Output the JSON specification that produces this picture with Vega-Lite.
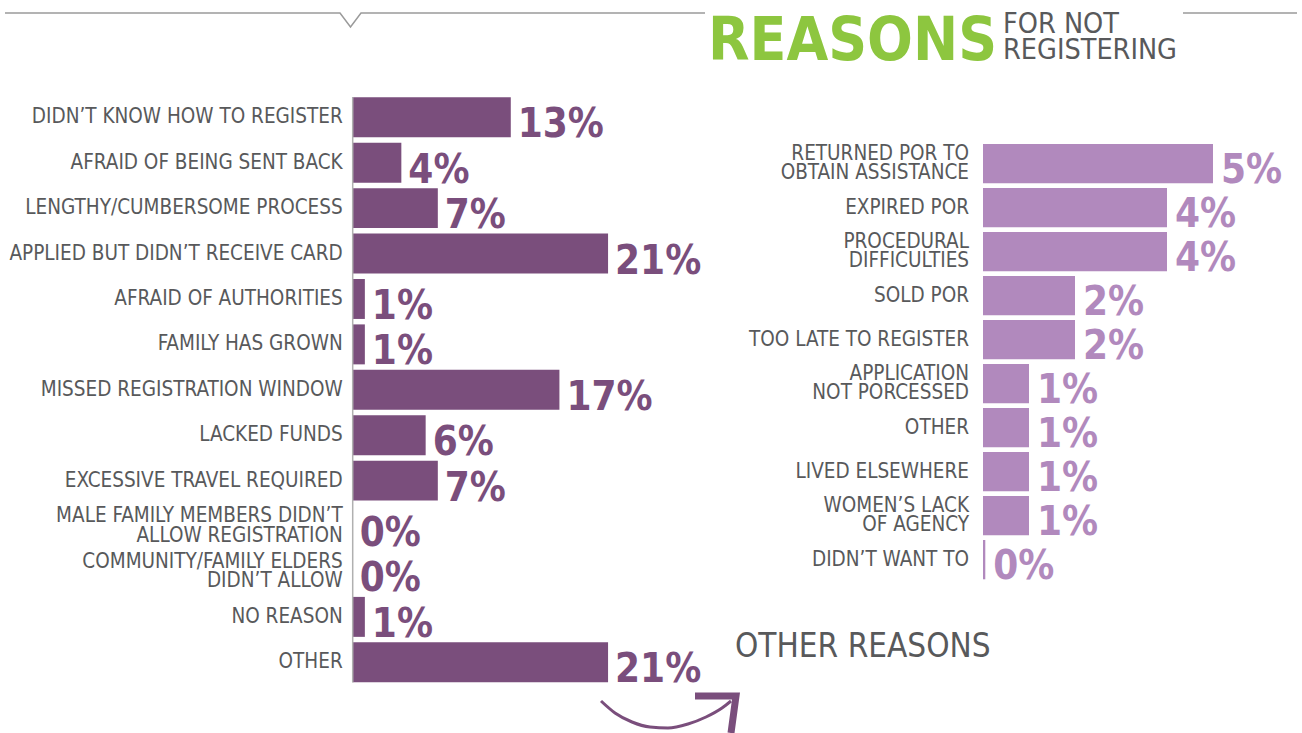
{
  "$schema": "https://vega.github.io/schema/vega-lite/v6.json",
  "width": 1302,
  "height": 733,
  "autosize": "none",
  "padding": 0,
  "background": "white",
  "config": {"view": {"stroke": null}},
  "datasets": {
    "left": [
      {"reason": "DIDN’T KNOW HOW TO REGISTER", "pct": 13, "label": "13%"},
      {"reason": "AFRAID OF BEING SENT BACK", "pct": 4, "label": "4%"},
      {"reason": "LENGTHY/CUMBERSOME PROCESS", "pct": 7, "label": "7%"},
      {"reason": "APPLIED BUT DIDN’T RECEIVE CARD", "pct": 21, "label": "21%"},
      {"reason": "AFRAID OF AUTHORITIES", "pct": 1, "label": "1%"},
      {"reason": "FAMILY HAS GROWN", "pct": 1, "label": "1%"},
      {"reason": "MISSED REGISTRATION WINDOW", "pct": 17, "label": "17%"},
      {"reason": "LACKED FUNDS", "pct": 6, "label": "6%"},
      {"reason": "EXCESSIVE TRAVEL REQUIRED", "pct": 7, "label": "7%"},
      {"reason": "MALE FAMILY MEMBERS DIDN’T\nALLOW REGISTRATION", "pct": 0, "label": "0%"},
      {"reason": "COMMUNITY/FAMILY ELDERS\nDIDN’T ALLOW", "pct": 0, "label": "0%"},
      {"reason": "NO REASON", "pct": 1, "label": "1%"},
      {"reason": "OTHER", "pct": 21, "label": "21%"}
    ],
    "right": [
      {"reason": "RETURNED POR TO\nOBTAIN ASSISTANCE", "pct": 5, "label": "5%"},
      {"reason": "EXPIRED POR", "pct": 4, "label": "4%"},
      {"reason": "PROCEDURAL\nDIFFICULTIES", "pct": 4, "label": "4%"},
      {"reason": "SOLD POR", "pct": 2, "label": "2%"},
      {"reason": "TOO LATE TO REGISTER", "pct": 2, "label": "2%"},
      {"reason": "APPLICATION\nNOT PORCESSED", "pct": 1, "label": "1%"},
      {"reason": "OTHER", "pct": 1, "label": "1%"},
      {"reason": "LIVED ELSEWHERE", "pct": 1, "label": "1%"},
      {"reason": "WOMEN’S LACK\nOF AGENCY", "pct": 1, "label": "1%"},
      {"reason": "DIDN’T WANT TO", "pct": 0.05, "label": "0%"}
    ],
    "topline": [
      {"x": 5, "y": 13, "seg": "a"},
      {"x": 340, "y": 13, "seg": "a"},
      {"x": 350.5, "y": 27, "seg": "a"},
      {"x": 361, "y": 13, "seg": "a"},
      {"x": 705, "y": 13, "seg": "a"},
      {"x": 1183, "y": 13, "seg": "b"},
      {"x": 1297, "y": 13, "seg": "b"}
    ],
    "curve": [
      {"x": 601, "y": 701},
      {"x": 615, "y": 713},
      {"x": 632, "y": 722},
      {"x": 650, "y": 727},
      {"x": 668, "y": 728},
      {"x": 688, "y": 724},
      {"x": 706, "y": 717},
      {"x": 722, "y": 708},
      {"x": 731, "y": 701}
    ],
    "head": [
      {"i": 1, "x": 695, "y": 696},
      {"i": 2, "x": 736, "y": 696},
      {"i": 3, "x": 731, "y": 733}
    ]
  },
  "resolve": {"scale": {"x": "independent", "y": "independent"}},
  "layer": [
    {
      "mark": {"type": "rect", "color": "#f0f1f3"},
      "encoding": {
        "x": {"datum": 712, "type": "quantitative", "axis": null, "scale": {"domain": [0, 1302], "nice": false, "zero": false}},
        "x2": {"datum": 1297},
        "y": {"datum": 97.5, "type": "quantitative", "axis": null, "scale": {"domain": [0, 733], "nice": false, "zero": false, "reverse": true}},
        "y2": {"datum": 678.5}
      }
    },
    {
      "data": {"name": "left"},
      "encoding": {
        "y": {"field": "reason", "type": "nominal", "sort": null, "axis": null,
              "scale": {"paddingInner": 0.12, "paddingOuter": 0.06, "range": [94.6, 685.0]}},
        "x": {"field": "pct", "type": "quantitative", "axis": null,
              "scale": {"domain": [-29.005, 78.067], "nice": false, "zero": false}}
      },
      "layer": [
        {"mark": {"type": "bar", "color": "#7a4e7c"}},
        {
          "mark": {"type": "text", "align": "left", "baseline": "alphabetic", "dx": 7, "dy": 0,
                   "font": "DejaVu Sans Condensed, DejaVu Sans, sans-serif",
                   "fontSize": 40, "fontWeight": "bold", "color": "#7a4e7c"},
          "encoding": {
            "y": {"field": "reason", "type": "nominal", "sort": null, "bandPosition": 1},
            "text": {"field": "label"}
          }
        },
        {
          "mark": {"type": "text", "align": "right", "baseline": "middle", "dx": -10, "dy": 0,
                   "lineBreak": "\n", "lineHeight": 19.5,
                   "font": "DejaVu Sans Condensed, DejaVu Sans, sans-serif",
                   "fontSize": 20.5, "color": "#58595b"},
          "encoding": {
            "x": {"datum": 0, "type": "quantitative"},
            "text": {"condition": {"test": "indexof(datum.reason, '\\n') >= 0", "value": ""}, "field": "reason"}
          }
        },
        {
          "mark": {"type": "text", "align": "right", "baseline": "middle", "dx": -10, "dy": -9.75,
                   "lineBreak": "\n", "lineHeight": 19.5,
                   "font": "DejaVu Sans Condensed, DejaVu Sans, sans-serif",
                   "fontSize": 20.5, "color": "#58595b"},
          "encoding": {
            "x": {"datum": 0, "type": "quantitative"},
            "text": {"condition": {"test": "indexof(datum.reason, '\\n') < 0", "value": ""}, "field": "reason"}
          }
        }
      ]
    },
    {
      "data": {"name": "right"},
      "encoding": {
        "y": {"field": "reason", "type": "nominal", "sort": null, "axis": null,
              "scale": {"paddingInner": 0.107, "paddingOuter": 0.0535, "range": [141.65, 581.65]}},
        "x": {"field": "pct", "type": "quantitative", "axis": null,
              "scale": {"domain": [-21.37, 6.935], "nice": false, "zero": false}}
      },
      "layer": [
        {"mark": {"type": "bar", "color": "#b189bd"}},
        {
          "mark": {"type": "text", "align": "left", "baseline": "alphabetic", "dx": 8, "dy": 0,
                   "font": "DejaVu Sans Condensed, DejaVu Sans, sans-serif",
                   "fontSize": 40, "fontWeight": "bold", "color": "#b189bd"},
          "encoding": {
            "y": {"field": "reason", "type": "nominal", "sort": null, "bandPosition": 1},
            "text": {"field": "label"}
          }
        },
        {
          "mark": {"type": "text", "align": "right", "baseline": "middle", "dx": -14, "dy": 0,
                   "lineBreak": "\n", "lineHeight": 19.5,
                   "font": "DejaVu Sans Condensed, DejaVu Sans, sans-serif",
                   "fontSize": 20.5, "color": "#58595b"},
          "encoding": {
            "x": {"datum": 0, "type": "quantitative"},
            "text": {"condition": {"test": "indexof(datum.reason, '\\n') >= 0", "value": ""}, "field": "reason"}
          }
        },
        {
          "mark": {"type": "text", "align": "right", "baseline": "middle", "dx": -14, "dy": -9.75,
                   "lineBreak": "\n", "lineHeight": 19.5,
                   "font": "DejaVu Sans Condensed, DejaVu Sans, sans-serif",
                   "fontSize": 20.5, "color": "#58595b"},
          "encoding": {
            "x": {"datum": 0, "type": "quantitative"},
            "text": {"condition": {"test": "indexof(datum.reason, '\\n') < 0", "value": ""}, "field": "reason"}
          }
        }
      ]
    },
    {
      "encoding": {
        "x": {"type": "quantitative", "axis": null, "scale": {"domain": [0, 1302], "nice": false, "zero": false}},
        "y": {"type": "quantitative", "axis": null, "scale": {"domain": [0, 733], "nice": false, "zero": false, "reverse": true}}
      },
      "layer": [
        {
          "data": {"name": "topline"},
          "mark": {"type": "line", "color": "#9a9a9a", "strokeWidth": 1.5},
          "encoding": {
            "x": {"field": "x", "type": "quantitative"},
            "y": {"field": "y", "type": "quantitative"},
            "detail": {"field": "seg"}
          }
        },
        {
          "data": {"name": "curve"},
          "mark": {"type": "line", "color": "#7a4e7c", "strokeWidth": 3, "interpolate": "monotone"},
          "encoding": {
            "x": {"field": "x", "type": "quantitative"},
            "y": {"field": "y", "type": "quantitative"}
          }
        },
        {
          "data": {"name": "head"},
          "mark": {"type": "line", "color": "#7a4e7c", "strokeWidth": 7, "strokeJoin": "miter"},
          "encoding": {
            "x": {"field": "x", "type": "quantitative"},
            "y": {"field": "y", "type": "quantitative"},
            "order": {"field": "i"}
          }
        },
        {
          "data": {"values": [{}]},
          "mark": {"type": "rule", "color": "#b0b0b0", "strokeWidth": 1.5},
          "encoding": {
            "x": {"datum": 352.7},
            "y": {"datum": 97},
            "y2": {"datum": 682.5}
          }
        },
        {
          "data": {"values": [{}]},
          "mark": {"type": "text", "text": "REASONS", "align": "left", "baseline": "alphabetic",
                   "font": "DejaVu Sans Condensed, DejaVu Sans, sans-serif",
                   "fontSize": 60, "fontWeight": "bold", "color": "#8dc63f"},
          "encoding": {"x": {"datum": 708}, "y": {"datum": 60}}
        },
        {
          "data": {"values": [{}]},
          "mark": {"type": "text", "text": "FOR NOT", "align": "left", "baseline": "alphabetic",
                   "font": "DejaVu Sans Condensed, DejaVu Sans, sans-serif",
                   "fontSize": 28.5, "color": "#58595b"},
          "encoding": {"x": {"datum": 1003}, "y": {"datum": 33}}
        },
        {
          "data": {"values": [{}]},
          "mark": {"type": "text", "text": "REGISTERING", "align": "left", "baseline": "alphabetic",
                   "font": "DejaVu Sans Condensed, DejaVu Sans, sans-serif",
                   "fontSize": 28.5, "color": "#58595b"},
          "encoding": {"x": {"datum": 1003}, "y": {"datum": 59}}
        },
        {
          "data": {"values": [{}]},
          "mark": {"type": "text", "text": "OTHER REASONS", "align": "left", "baseline": "alphabetic",
                   "font": "DejaVu Sans Condensed, DejaVu Sans, sans-serif",
                   "fontSize": 33, "color": "#58595b"},
          "encoding": {"x": {"datum": 735}, "y": {"datum": 657}}
        }
      ]
    }
  ]
}
